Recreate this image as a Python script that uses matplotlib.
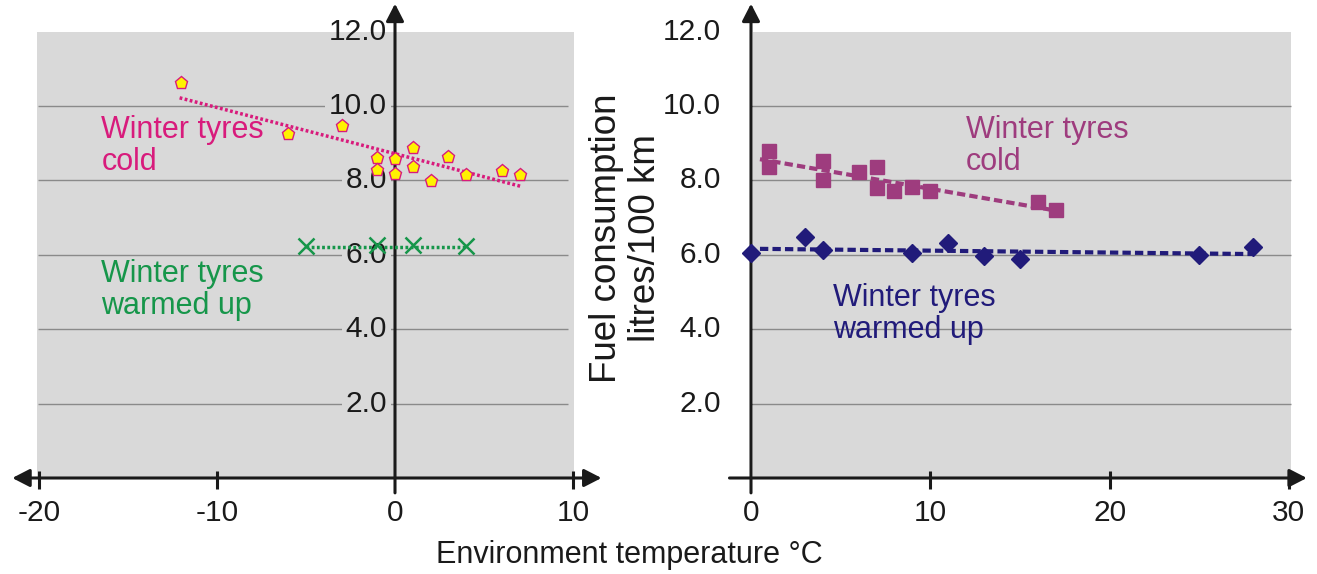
import matplotlib
matplotlib.use("Agg")
import matplotlib.pyplot as plt
from matplotlib.patches import Rectangle

plt.rcParams['font.family'] = ['Liberation Sans', 'DejaVu Sans']

# ---- data ----
# left panel: winter tyres cold (pentagons) and warmed up (crosses)
cold_left_x = [-12, -6, -3, -1, -1, 0, 0, 1, 1, 2, 3, 4, 6, 7]
cold_left_y = [10.63, 9.26, 9.45, 8.61, 8.29, 8.58, 8.18, 8.87, 8.35, 7.99, 8.64, 8.14, 8.25, 8.14]
cold_left_trend_x = [-12.1, 7.07]
cold_left_trend_y = [10.22, 7.84]
warm_left_x = [-5, -1, 1, 4]
warm_left_y = [6.23, 6.27, 6.27, 6.23]
warm_left_trend_x = [-5, 4]
warm_left_trend_y = [6.22, 6.22]

# right panel: winter tyres cold (squares) and warmed up (diamonds)
cold_right_x = [1, 1, 4, 4, 6, 7, 7, 8, 9, 10, 16, 17]
cold_right_y = [8.78, 8.35, 8.52, 8.0, 8.23, 8.37, 7.8, 7.72, 7.83, 7.72, 7.43, 7.2]
cold_right_trend_x = [0.5, 17.1]
cold_right_trend_y = [8.57, 7.18]
warm_right_x = [0, 3, 4, 9, 11, 13, 15, 25, 28]
warm_right_y = [6.05, 6.47, 6.14, 6.05, 6.33, 5.98, 5.9, 6.0, 6.2]
warm_right_trend_x = [0.5, 28]
warm_right_trend_y = [6.16, 6.02]

y_ticks = [2, 4, 6, 8, 10, 12]
y_ticklabels = ["2.0", "4.0", "6.0", "8.0", "10.0", "12.0"]
left_xticks = [-20, -10, 0, 10]
right_xticks = [0, 10, 20, 30]

# ---- style ----
W, H = 1317, 574
BG = "#d9d9d9"
GRID = "#8a8a8a"
AX = "#1a1a1a"
MAGENTA = "#d81b7c"
GREEN = "#16964a"
PURPLE = "#9e3c7e"
NAVY = "#211b7a"
FS = 21.5

fig = plt.figure(figsize=(W / 100, H / 100), dpi=100)
fig.patch.set_facecolor("white")

YLIM = (-1.5, 12.85)


def place(x0px, ppu_x, xlim, y0px=478, ppu_y=37.2):
    left = x0px + xlim[0] * ppu_x
    right = x0px + xlim[1] * ppu_x
    top = y0px - YLIM[1] * ppu_y
    bottom = y0px - YLIM[0] * ppu_y
    ax = fig.add_axes([left / W, 1 - bottom / H, (right - left) / W, (bottom - top) / H])
    ax.set_xlim(*xlim)
    ax.set_ylim(*YLIM)
    ax.axis("off")
    return ax


def arrow(ax, start, end, style):
    ax.annotate("", xy=end, xytext=start, xycoords="data",
                arrowprops=dict(arrowstyle=style + ",head_length=0.7,head_width=0.36",
                                lw=2.2, color=AX, mutation_scale=15,
                                shrinkA=0, shrinkB=0), annotation_clip=False)


def frame(ax, bg_x0, bg_x1, grid_x0, grid_x1, x_left, x_right, xticks, both_ends):
    ax.add_patch(Rectangle((bg_x0, 0), bg_x1 - bg_x0, 12, facecolor=BG, edgecolor="none", zorder=0))
    ax.hlines(y_ticks[:-1], grid_x0, grid_x1, color=GRID, lw=1.0, zorder=1)
    arrow(ax, (x_left, 0), (x_right, 0), "<|-|>" if both_ends else "-|>")
    arrow(ax, (0, -0.4), (0, 12.75), "-|>")
    ax.vlines([t for t in xticks if t != 0], -0.3, 0.2, color=AX, lw=2.2, zorder=5)
    for t in xticks:
        ax.text(t, -0.95, str(t), ha="center", va="center", fontsize=FS, color=AX)


# ---- left panel ----
axl = place(395, 17.8, (-22, 12))
frame(axl, -20.1, 10.05, -20.05, 9.7, -21.5, 11.6, left_xticks, True)
for v, s in zip(y_ticks, y_ticklabels):
    box = None
    if v < 12:
        box = dict(boxstyle="square,pad=0.12", facecolor=BG, edgecolor="none")
    axl.text(-0.45, v, s, ha="right", va="center", fontsize=FS, color=AX, zorder=2, bbox=box)
axl.plot(cold_left_trend_x, cold_left_trend_y, color=MAGENTA, lw=2.5,
         linestyle=(0, (0.8, 0.7)), zorder=3)
axl.plot(cold_left_x, cold_left_y, linestyle="none", marker="p", ms=9.5,
         mfc="#fff200", mec=MAGENTA, mew=1.0, zorder=4)
axl.plot(warm_left_trend_x, warm_left_trend_y, color=GREEN, lw=2.5,
         linestyle=(0, (0.8, 0.7)), zorder=3)
axl.plot(warm_left_x, warm_left_y, linestyle="none", marker="x", ms=11,
         mec=GREEN, mew=1.8, zorder=4)
axl.text(-16.5, 8.92, "Winter tyres\ncold", ha="left", va="center", fontsize=22,
         color=MAGENTA, linespacing=1.1, zorder=3)
axl.text(-16.5, 5.05, "Winter tyres\nwarmed up", ha="left", va="center", fontsize=22,
         color=GREEN, linespacing=1.1, zorder=3)

# ---- right panel ----
axr = place(751, 17.93, (-2, 31.5))
frame(axr, 0.1, 30.1, 0, 30.1, -1.2, 31.0, right_xticks, False)
for v, s in zip(y_ticks, y_ticklabels):
    axr.text(-1.67, v, s, ha="right", va="center", fontsize=FS, color=AX)
axr.plot(cold_right_trend_x, cold_right_trend_y, color=PURPLE, lw=3,
         linestyle=(0, (2, 1)), zorder=3)
axr.plot(cold_right_x, cold_right_y, linestyle="none", marker="s", ms=9.5,
         mfc=PURPLE, mec=PURPLE, zorder=4)
axr.plot(warm_right_trend_x, warm_right_trend_y, color=NAVY, lw=3,
         linestyle=(0, (2, 1)), zorder=3)
axr.plot(warm_right_x, warm_right_y, linestyle="none", marker="D", ms=9,
         mfc=NAVY, mec=NAVY, zorder=4, clip_on=False)
axr.text(12.0, 8.92, "Winter tyres\ncold", ha="left", va="center", fontsize=22,
         color=PURPLE, linespacing=1.1, zorder=3)
axr.text(4.57, 4.41, "Winter tyres\nwarmed up", ha="left", va="center", fontsize=22,
         color=NAVY, linespacing=1.1, zorder=3)

# ---- shared axis titles ----
fig.text(629 / W, 1 - 555 / H, "Environment temperature °C", ha="center", va="center",
         fontsize=22, color=AX)
fig.text(626 / W, 1 - 238 / H, "Fuel consumption\nlitres/100 km", ha="center", va="center",
         rotation=90, fontsize=26.5, color=AX, linespacing=1.12)

fig.savefig("out.png", dpi=100)
